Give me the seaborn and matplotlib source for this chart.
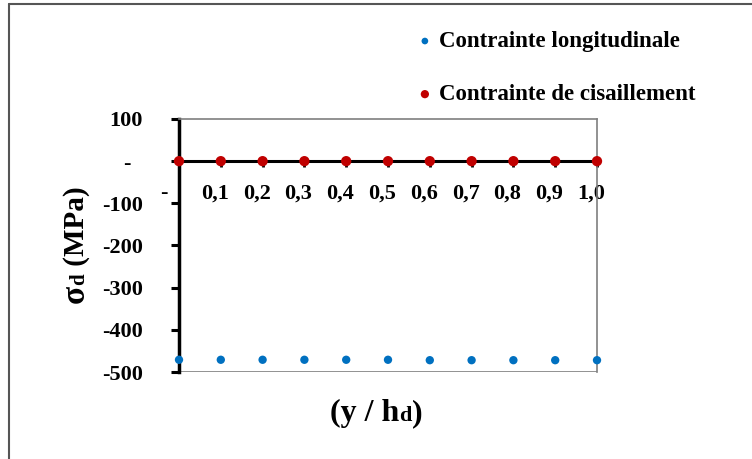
import pandas as pd
import seaborn as sns
import matplotlib.pyplot as plt
from matplotlib.lines import Line2D
from matplotlib.transforms import ScaledTranslation

# Data
positions = [0.0, 0.1, 0.2, 0.3, 0.4, 0.5, 0.6, 0.7, 0.8, 0.9, 1.0]
contrainte_longitudinale = [-471, -471, -471, -471, -471, -471, -472, -472, -472, -472, -472]
contrainte_cisaillement = [0, 0, 0, 0, 0, 0, 0, 0, 0, 0, 0]
x_tick_labels = ['-   ', '0,1', '0,2', '0,3', '0,4', '0,5', '0,6', '0,7', '0,8', '0,9', '1,0']
y_ticks = [100, 0, -100, -200, -300, -400, -500]
y_tick_labels = ['100', '-  ', '-100', '-200', '-300', '-400', '-500']

df_long = pd.DataFrame({'y': positions, 'sigma': contrainte_longitudinale})
df_cis = pd.DataFrame({'y': positions, 'sigma': contrainte_cisaillement})

sns.set_style('white')
plt.rcParams['font.family'] = ['Liberation Serif', 'DejaVu Serif']
plt.rcParams['font.weight'] = 'bold'
plt.rcParams['text.color'] = 'black'
plt.rcParams['axes.labelcolor'] = 'black'
plt.rcParams['xtick.color'] = 'black'
plt.rcParams['ytick.color'] = 'black'

W, H = 752, 459
fig = plt.figure(figsize=(W / 100, H / 100), dpi=100)
ax = fig.add_axes([179 / W, 87 / H, 418 / W, 253 / H])

blue = '#0070C0'
red = '#C00000'

sns.scatterplot(data=df_long, x='y', y='sigma', color=blue, s=36, edgecolor='none',
                label='Contrainte longitudinale', ax=ax, zorder=4, clip_on=False)
sns.scatterplot(data=df_cis, x='y', y='sigma', color=red, s=55, edgecolor='none',
                label='Contrainte de cisaillement', ax=ax, zorder=5, clip_on=False)

ax.set_xlim(0, 1.0)
ax.set_ylim(-500, 100)

# x axis sits on the zero line
ax.spines['bottom'].set_position(('data', 0))
ax.spines['bottom'].set_color('black')
ax.spines['bottom'].set_linewidth(2.2)
ax.spines['left'].set_color('black')
ax.spines['left'].set_linewidth(2.5)
for side in ['top', 'right']:
    ax.spines[side].set_color('#7f7f7f')
    ax.spines[side].set_linewidth(1.2)
ax.axhline(-500, color='#7f7f7f', lw=1.2, zorder=1)

ax.set_xticks(positions)
ax.set_xticklabels(x_tick_labels, fontsize=16, fontweight='bold', color='black')
ax.tick_params(axis='x', direction='out', length=4, width=2, color='black', pad=12, bottom=True)
offset = ScaledTranslation(-6 / 100, 0, fig.dpi_scale_trans)
for lab in ax.get_xticklabels():
    lab.set_transform(lab.get_transform() + offset)

ax.set_yticks(y_ticks)
ax.set_yticklabels(y_tick_labels, fontsize=16, fontweight='bold', color='black')
ax.tick_params(axis='y', direction='out', length=6, width=2.2, color='black', pad=20, left=True)

ax.set_xlabel('')
ax.set_ylabel('')


# axis titles with a small "d" sitting on the baseline
def pieces_text(cx, cy, pieces, rotation=0):
    renderer = fig.canvas.get_renderer()
    items = []
    total = 0
    for txt, size in pieces:
        t = fig.text(0, 0, txt, fontsize=size, fontweight='bold', ha='left', va='baseline',
                     rotation=rotation, rotation_mode='anchor', color='black')
        ext = t.get_window_extent(renderer)
        length = ext.width if rotation == 0 else ext.height
        items.append((t, total))
        total += length
    for t, start in items:
        if rotation == 0:
            t.set_position(((cx - total / 2 + start) / W, 1 - cy / H))
        else:
            t.set_position((cx / W, 1 - (cy + total / 2 - start) / H))


pieces_text(376, 421, [('(y / h', 23), ('d', 16), (')', 23)])
pieces_text(84, 245, [('σ', 24), ('d', 15), (' (MPa)', 21)], rotation=90)

ax.legend_.remove()
handles, labels = ax.get_legend_handles_labels()
leg = fig.legend(handles, labels, loc='upper left', bbox_to_anchor=(418 / W, 1 - 31 / H),
                 frameon=False, prop={'weight': 'bold', 'size': 16.5},
                 handlelength=0.6, handletextpad=0.3, labelspacing=1.4, markerscale=0.8,
                 borderpad=0, borderaxespad=0)
for txt in leg.get_texts():
    txt.set_color('black')

# outer frame of the figure
fig.add_artist(Line2D([9 / W, 1], [1 - 4 / H, 1 - 4 / H], color='#555555', lw=1.5))
fig.add_artist(Line2D([9 / W, 9 / W], [0, 1 - 4 / H], color='#555555', lw=1.5))

fig.savefig('out.png', dpi=100)
